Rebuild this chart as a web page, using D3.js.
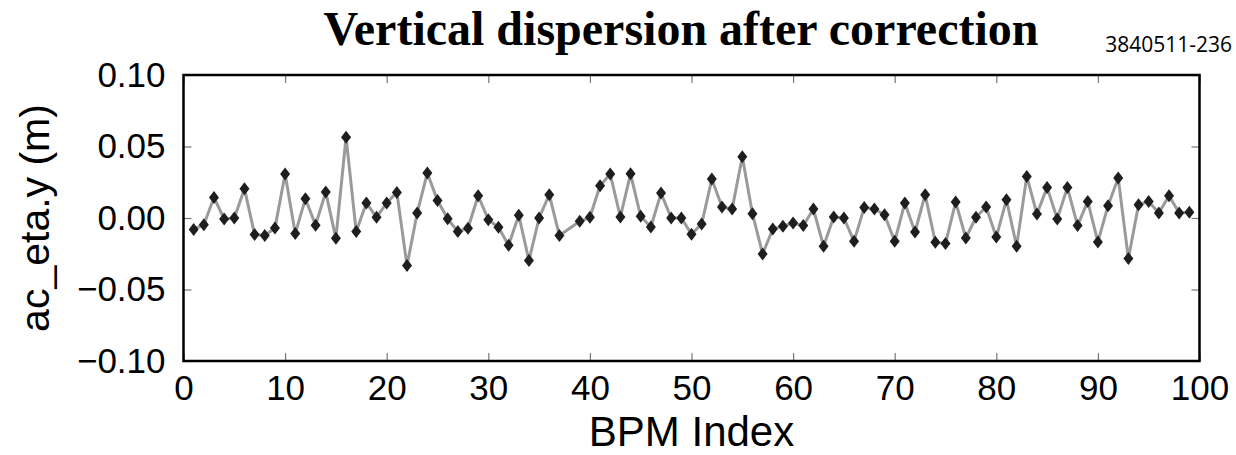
<!DOCTYPE html>
<html>
<head>
<meta charset="utf-8">
<script src="https://cdn.jsdelivr.net/npm/d3@7"></script>
<style>
  html, body { margin: 0; padding: 0; background: #fff; }
  svg { display: block; }
</style>
</head>
<body>
<svg id="chart" width="1236" height="455"></svg>
<script>
// ---- data ----
const bpmIndex = [1,2,3,4,5,6,7,8,9,10,11,12,13,14,15,16,17,18,19,20,21,22,23,24,25,26,27,28,29,30,31,32,33,34,35,36,37,
  39,40,41,42,43,44,45,46,47,48,49,50,51,52,53,54,55,56,57,58,59,60,61,62,63,64,65,66,67,68,69,70,71,72,73,74,75,76,77,78,79,80,
  81,82,83,84,85,86,87,88,89,90,91,92,93,94,95,96,97,98,99];
const etaY = [-0.0080,-0.0047,0.0144,-0.0007,0.0000,0.0205,-0.0116,-0.0123,-0.0070,0.0307,-0.0109,0.0135,-0.0050,0.0181,-0.0142,0.0565,-0.0095,0.0105,0.0005,0.0105,
  0.0179,-0.0333,0.0035,0.0315,0.0123,-0.0005,-0.0095,-0.0072,0.0156,-0.0012,-0.0065,-0.0190,0.0020,-0.0298,0.0000,0.0163,-0.0123,
  -0.0023,0.0005,0.0226,0.0307,0.0007,0.0309,0.0012,-0.0063,0.0174,0.0000,0.0000,-0.0113,-0.0042,0.0272,0.0077,0.0063,0.0428,0.0030,-0.0251,
  -0.0077,-0.0058,-0.0035,-0.0053,0.0063,-0.0198,0.0007,0.0000,-0.0163,0.0074,0.0063,0.0023,-0.0163,0.0105,-0.0098,0.0163,-0.0170,-0.0179,
  0.0112,-0.0140,0.0005,0.0077,-0.0133,0.0128,-0.0198,0.0291,0.0028,0.0214,-0.0007,0.0214,-0.0053,0.0116,-0.0167,0.0086,0.0279,-0.0284,
  0.0093,0.0116,0.0035,0.0156,0.0035,0.0040];
const xTicks = [0,10,20,30,40,50,60,70,80,90,100];
const yTicks = [-0.10,-0.05,0.00,0.05,0.10];
const titleText = "Vertical dispersion after correction";
const figId = "3840511-236";
const xLabel = "BPM Index";
const yLabel = "ac_eta.y (m)";

// ---- layout ----
const svg = d3.select("#chart");
const L = 183.5, R = 1199.5, T = 75, B = 361;
const x = d3.scaleLinear().domain([0, 100]).range([L, R]);
const y = d3.scaleLinear().domain([-0.10, 0.10]).range([B, T]);
const sans = "'Liberation Sans', Arial, Helvetica, sans-serif";
const fmtY = v => (v < 0 ? "\u2212" : "") + Math.abs(v).toFixed(2);

// axes (ticks inward, on all four sides)
const tickLen = 8;
function styleAxis(g) {
  g.select(".domain").remove();
  g.selectAll(".tick line").attr("stroke", "#777").attr("stroke-width", 1.2);
}
svg.append("g").attr("transform", `translate(0,${B})`)
  .call(d3.axisBottom(x).tickValues(xTicks).tickSize(-tickLen).tickPadding(14).tickFormat(d3.format("d")))
  .call(styleAxis)
  .call(g => g.selectAll(".tick text").attr("font-family", sans).attr("font-size", 35).attr("fill", "#000"));
svg.append("g").attr("transform", `translate(0,${T})`)
  .call(d3.axisTop(x).tickValues(xTicks).tickSize(-tickLen).tickFormat(""))
  .call(styleAxis);
svg.append("g").attr("transform", `translate(${L},0)`)
  .call(d3.axisLeft(y).tickValues(yTicks).tickSize(-tickLen).tickPadding(18).tickFormat(fmtY))
  .call(styleAxis)
  .call(g => g.selectAll(".tick text").attr("font-family", sans).attr("font-size", 35).attr("fill", "#000"));
svg.append("g").attr("transform", `translate(${R},0)`)
  .call(d3.axisRight(y).tickValues(yTicks).tickSize(-tickLen).tickFormat(""))
  .call(styleAxis);

// data line + markers
const pts = bpmIndex.map((d, i) => [d, etaY[i]]);
svg.append("path")
  .datum(pts)
  .attr("fill", "none")
  .attr("stroke", "#9a9a9a")
  .attr("stroke-width", 3)
  .attr("stroke-linejoin", "round")
  .attr("d", d3.line().x(d => x(d[0])).y(d => y(d[1])));
const hw = 5, hh = 6.5;
svg.append("g").selectAll("path")
  .data(pts).join("path")
  .attr("d", d => `M${x(d[0])},${y(d[1]) - hh}L${x(d[0]) + hw},${y(d[1])}L${x(d[0])},${y(d[1]) + hh}L${x(d[0]) - hw},${y(d[1])}Z`)
  .attr("fill", "#1e1e1e");

// frame
svg.append("rect")
  .attr("x", L).attr("y", T).attr("width", R - L).attr("height", B - T)
  .attr("fill", "none").attr("stroke", "#000").attr("stroke-width", 2.5);

// labels
svg.append("text")
  .attr("x", (L + R) / 2).attr("y", 446)
  .attr("text-anchor", "middle")
  .attr("font-family", sans).attr("font-size", 42)
  .text(xLabel);
svg.append("text")
  .attr("transform", `translate(49,${(T + B) / 2}) rotate(-90)`)
  .attr("text-anchor", "middle")
  .attr("font-family", sans).attr("font-size", 41)
  .text(yLabel);
svg.append("text")
  .attr("x", 681).attr("y", 45)
  .attr("text-anchor", "middle")
  .attr("font-family", "'Liberation Serif', 'Times New Roman', Times, serif")
  .attr("font-weight", "bold").attr("font-size", 48)
  .text(titleText);
svg.append("text")
  .attr("x", 1232).attr("y", 52)
  .attr("text-anchor", "end")
  .attr("font-family", "'Liberation Sans Narrow', 'Open Sans', sans-serif")
  .attr("font-size", 21)
  .text(figId);
</script>
</body>
</html>
